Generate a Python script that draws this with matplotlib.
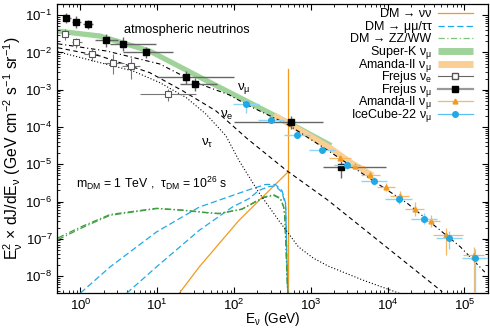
import numpy as np
import matplotlib
matplotlib.use("Agg")
import matplotlib.pyplot as plt

plt.rcParams['font.family'] = ['Liberation Sans', 'DejaVu Sans']
plt.rcParams['mathtext.fontset'] = 'custom'
plt.rcParams['mathtext.rm'] = 'Liberation Sans'
plt.rcParams['mathtext.it'] = 'Liberation Sans'
plt.rcParams['mathtext.bf'] = 'Liberation Sans:bold'

# ---- atmospheric neutrino fluxes (E in GeV, E^2 dJ/dE) ----
atm_E_mu = [0.51, 2.21, 10.8, 32.0, 86.2, 156, 483, 1683, 5520, 18100, 88300, 184000]
atm_F_mu = [0.0171, 0.0109, 0.00491, 0.00155, 7.3e-4, 3.71e-4, 1.22e-4, 2.32e-5, 4.5e-6, 8.9e-7, 6.1e-8, 1.28e-8]
atm_E_e = [0.51, 1.81, 8.0, 21.5, 58.0, 148.5, 483, 1683, 51300]
atm_F_e = [0.01337, 0.00803, 0.00287, 9.33e-4, 2.72e-4, 4.86e-5, 6.8e-6, 1.07e-6, 3.8e-9]
atm_E_tau = [0.51, 1.81, 4.83, 10.8, 23.8, 43.1, 78.2, 116, 210, 381, 690, 1077, 1683, 4754, 14160]
atm_F_tau = [0.01046, 0.00532, 0.00319, 0.00155, 6.17e-4, 2.22e-4, 5.85e-5, 1.26e-5, 1.75e-6,
             3.13e-7, 6.07e-8, 3.03e-8, 1.85e-8, 7.8e-9, 3.45e-9]

# ---- measured bands ----
superk_E = [0.51, 1.81, 8.0, 35.3, 143, 513, 1840]
superk_F = [0.0374, 0.0275, 0.0109, 0.00221, 5.04e-4, 1.30e-4, 3.16e-5]
amanda_band_E = [330, 1840, 3330, 6400]
amanda_band_F = [2.1e-4, 2.63e-5, 1.11e-5, 5.0e-6]

# ---- dark matter decay spectra (m_DM = 1 TeV) ----
nunu_E = [19.5, 35.3, 116, 500]
nunu_F = [3.52e-9, 1.77e-8, 3.13e-7, 6.1e-6]
line_E = [500, 500]
line_F = [3.6e-3, 1e-9]
tautau_E = [1.0, 2.44, 9.8, 35.3, 156, 257, 345, 420, 470, 500]
tautau_F = [3.5e-9, 1.77e-8, 1.53e-7, 7.1e-7, 2.07e-6, 2.87e-6, 2.87e-6, 1.98e-6, 8.9e-7, 3e-9]
mumu_E = [4.0, 9.8, 35.3, 95, 156, 210, 283, 345, 420, 470, 500]
mumu_F = [3.45e-9, 1.77e-8, 1.69e-7, 7.1e-7, 1.19e-6, 1.98e-6, 2.51e-6, 2.63e-6, 1.78e-6, 7.9e-7, 3.5e-9]
zz_E = [0.51, 1.10, 2.44, 9.77, 21.5, 43.1, 64, 126.8, 190, 244, 328, 400, 442, 458, 500]
zz_F = [9.5e-8, 2.07e-7, 4.27e-7, 6.44e-7, 5.81e-7, 5.0e-7, 4.7e-7, 6.2e-7, 9.7e-7, 1.27e-6, 1.46e-6,
        1.19e-6, 7.1e-7, 3.9e-7, 3.5e-9]
ww_F = [1.06e-7, 2.25e-7, 4.5e-7, 6.6e-7, 5.9e-7, 5.1e-7, 4.8e-7, 6.3e-7, 1.0e-6, 1.32e-6, 1.52e-6,
        1.24e-6, 7.4e-7, 4.0e-7, 3.5e-9]

# ---- data points ----
frejus_mu_E = [0.654, 0.888, 1.24, 2.17, 3.56, 7.04, 23.8, 31.4, 556, 2497]
frejus_mu_Elo = [0.586, 0.765, 1.09, 1.53, 2.44, 3.62, 9.86, 19.5, 100, 1450]
frejus_mu_Ehi = [0.743, 1.03, 1.47, 3.12, 9.77, 16.0, 100, 60.4, 1450, 9420]
frejus_mu_F = [0.0847, 0.0662, 0.0564, 0.0215, 0.0171, 0.01046, 0.00221, 0.00146, 1.33e-4, 8.3e-6]
frejus_mu_Flo = [0.0611, 0.045, 0.0423, 0.014, 0.0109, 0.0071, 0.00144, 9.33e-4, 9.0e-5, 4.4e-6]
frejus_mu_Fhi = [0.113, 0.094, 0.0735, 0.031, 0.0258, 0.014, 0.00319, 0.00207, 2.0e-4, 1.26e-5]

frejus_e_E = [0.627, 0.888, 1.416, 2.64, 4.55, 13.8]
frejus_e_Elo = [0.569, 0.765, 1.126, 2.04, 3.48, 5.94]
frejus_e_Ehi = [0.700, 1.06, 1.707, 3.70, 5.94, 32.1]
frejus_e_F = [0.0305, 0.019, 0.00925, 0.00532, 0.00434, 7.6e-4]
frejus_e_Flo = [0.0215, 0.01337, 0.0059, 0.00265, 0.00195, 5.0e-4]
frejus_e_Fhi = [0.0423, 0.0248, 0.0131, 0.00908, 0.0071, 1.05e-3]

icecube_E = [141.6, 306, 656, 1406, 2958, 6592, 13860, 30000, 63100, 136500]
icecube_Elo = [95.7, 207, 443, 950, 1999, 4454, 9365, 20270, 42635, 92230]
icecube_Ehi = [209.6, 453, 971, 2081, 4378, 9756, 20513, 44400, 93390, 202000]
icecube_F = [4.11e-4, 1.57e-4, 6.22e-5, 2.47e-5, 9.66e-6, 3.52e-6, 1.14e-6, 3.48e-7, 1.02e-7, 2.98e-8]
icecube_Flo = [2.41e-4, 1.30e-4, 5.18e-5, 2.06e-5, 7.67e-6, 2.70e-6, 8.4e-7, 2.45e-7, 5.3e-8, 2.5e-9]
icecube_Fhi = [5.70e-4, 1.88e-4, 7.48e-5, 2.97e-5, 1.18e-5, 4.42e-6, 1.55e-6, 4.83e-7, 1.6e-7, 5.48e-8]

amanda_E = [2380, 3720, 5980, 9510, 14300, 22500, 36200, 58200, 131500]
amanda_Elo = [1700, 2820, 4540, 7220, 10850, 17070, 27470, 39000, 97000]
amanda_Ehi = [3300, 4900, 7880, 12530, 18850, 29660, 47710, 95000, 180000]
amanda_F = [1.48e-5, 9.2e-6, 5.2e-6, 2.43e-6, 1.37e-6, 6.2e-7, 3.0e-7, 1.25e-7, 3.6e-8]
amanda_Flo = [1.23e-5, 7.6e-6, 4.1e-6, 1.9e-6, 1.0e-6, 4.0e-7, 2.1e-7, 3.7e-8, 3.5e-9]
amanda_Fhi = [1.78e-5, 1.11e-5, 6.6e-6, 3.1e-6, 1.86e-6, 9.5e-7, 4.3e-7, 1.9e-7, 5.9e-8]

c_orange = '#f39a1e'
c_cyan = '#21a9e6'
c_green = '#3f9e3f'
c_sk = '#9fd39a'
c_am = '#fbcf93'


def errs(v, lo, hi):
    v = np.array(v)
    return [v - np.array(lo), np.array(hi) - v]


fig = plt.figure(figsize=(4.9, 3.33), dpi=100)
ax = fig.add_axes([0.117, 0.120, 0.878, 0.868])
ax.set_xscale('log')
ax.set_yscale('log')

# bands
ax.plot(superk_E, superk_F, color=c_sk, lw=3.8, solid_capstyle='butt', zorder=1)
ax.plot(amanda_band_E, amanda_band_F, color=c_am, lw=4.2, solid_capstyle='butt', zorder=1)

# atmospheric fluxes
ax.plot(atm_E_mu, atm_F_mu, color='black', lw=0.8, ls=(0, (4, 2.5, 1, 2.5)), zorder=3)
ax.plot(atm_E_e, atm_F_e, color='black', lw=0.8, ls=(0, (4, 3)), zorder=3)
ax.plot(atm_E_tau, atm_F_tau, color='black', lw=0.8, ls=(0, (1, 1.8)), zorder=3)

# DM spectra
ax.plot(nunu_E, nunu_F, color=c_orange, lw=0.9, zorder=2)
ax.plot(line_E, line_F, color=c_orange, lw=0.9, zorder=2)
ax.plot(tautau_E, tautau_F, color=c_cyan, lw=0.9, ls=(0, (5, 2.5)), zorder=2)
ax.plot(mumu_E, mumu_F, color=c_cyan, lw=0.9, ls=(0, (5, 2.5)), zorder=2)
ax.plot(zz_E, zz_F, color=c_green, lw=0.9, ls=(0, (5, 2, 1, 2)), zorder=2)
ax.plot(zz_E, ww_F, color=c_green, lw=0.9, ls=(0, (5, 2, 1, 2)), zorder=2)

# data
ax.errorbar(frejus_e_E, frejus_e_F, xerr=errs(frejus_e_E, frejus_e_Elo, frejus_e_Ehi),
            yerr=errs(frejus_e_F, frejus_e_Flo, frejus_e_Fhi), fmt='s', ms=4.5, mfc='white',
            mec='#555555', mew=0.8, ecolor='#777777', elinewidth=0.8, capsize=0, zorder=4)
ax.errorbar(frejus_mu_E, frejus_mu_F, xerr=errs(frejus_mu_E, frejus_mu_Elo, frejus_mu_Ehi),
            yerr=errs(frejus_mu_F, frejus_mu_Flo, frejus_mu_Fhi), fmt='s', ms=4.8, mfc='black',
            mec='black', ecolor='#666666', elinewidth=1.0, capsize=0, zorder=5)
ax.errorbar(amanda_E, amanda_F, xerr=errs(amanda_E, amanda_Elo, amanda_Ehi),
            yerr=errs(amanda_F, amanda_Flo, amanda_Fhi), fmt='^', ms=3.5, mfc=c_orange,
            mec=c_orange, ecolor='#f7b765', elinewidth=0.9, capsize=0, zorder=5)
ax.errorbar(icecube_E, icecube_F, xerr=errs(icecube_E, icecube_Elo, icecube_Ehi),
            yerr=errs(icecube_F, icecube_Flo, icecube_Fhi), fmt='o', ms=4, mfc=c_cyan,
            mec=c_cyan, ecolor='#8dd4f5', elinewidth=1.0, capsize=0, zorder=6)

ax.set_xlim(0.5, 2e5)
ax.set_ylim(3.5e-9, 0.2)

ax.tick_params(which='both', direction='in', top=True, right=True, labelsize=9.5)
ax.tick_params(which='major', length=4, width=0.8)
ax.tick_params(which='minor', length=2, width=0.6)
for s in ax.spines.values():
    s.set_linewidth(0.9)

ax.set_xlabel(r'E$_\nu$ (GeV)', fontsize=9.8, labelpad=-2)
ax.set_ylabel(r'E$_\nu^2$ $\times$ dJ/dE$_\nu$ (GeV cm$^{-2}$ s$^{-1}$ sr$^{-1}$)', fontsize=11.3, labelpad=0)

# annotations
ax.text(24, 0.040, 'atmospheric neutrinos', fontsize=9.2, ha='center', va='center')
ax.text(135, 1.05e-3, r'$\nu_\mu$', fontsize=9.5, ha='center', va='center')
ax.text(81, 2.0e-4, r'$\nu_e$', fontsize=9.5, ha='center', va='center')
ax.text(44.9, 3.6e-5, r'$\nu_\tau$', fontsize=9.5, ha='center', va='center')
ax.text(8.5, 3.05e-6, r'm$_{DM}$ = 1 TeV ,  $\tau_{DM}$ = 10$^{26}$ s', fontsize=8.8, ha='center', va='center')

# legend, drawn by hand in axes fractions (gnuplot-like key: text right, sample left)
labels = ['DM → νν', 'DM → μμ/ττ', 'DM → ZZ/WW',
          r'Super-K $\nu_\mu$', r'Amanda-II $\nu_\mu$', r'Frejus $\nu_e$', r'Frejus $\nu_\mu$',
          r'Amanda-II $\nu_\mu$', r'IceCube-22 $\nu_\mu$']
styles = [
    dict(color=c_orange, lw=0.9),
    dict(color=c_cyan, lw=0.9, ls=(0, (5, 2.5))),
    dict(color='#7cc47c', lw=0.9, ls=(0, (5, 2, 1, 2))),
    dict(color=c_sk, lw=5, solid_capstyle='butt'),
    dict(color=c_am, lw=5, solid_capstyle='butt'),
    dict(color='#666666', lw=0.8, marker='s', ms=4.5, mfc='white', mec='#555555', markevery=[1]),
    dict(color='#999999', lw=1.6, marker='s', ms=4.5, mfc='black', mec='black', markevery=[1]),
    dict(color='#f7b765', lw=0.9, marker='^', ms=3.5, mfc=c_orange, mec=c_orange, markevery=[1]),
    dict(color='#5cc0ee', lw=0.9, marker='o', ms=4, mfc=c_cyan, mec=c_cyan, markevery=[1]),
]
y0, dy = 0.968, 0.0436
for i, (lab, st) in enumerate(zip(labels, styles)):
    y = y0 - i * dy
    ax.plot([0.885, 0.925, 0.966], [y, y, y], transform=ax.transAxes, clip_on=False, zorder=7, **st)
    ax.text(0.870, y - 0.013, lab, transform=ax.transAxes, fontsize=9.0, ha='right', va='baseline')

fig.savefig('out.png', dpi=100)
